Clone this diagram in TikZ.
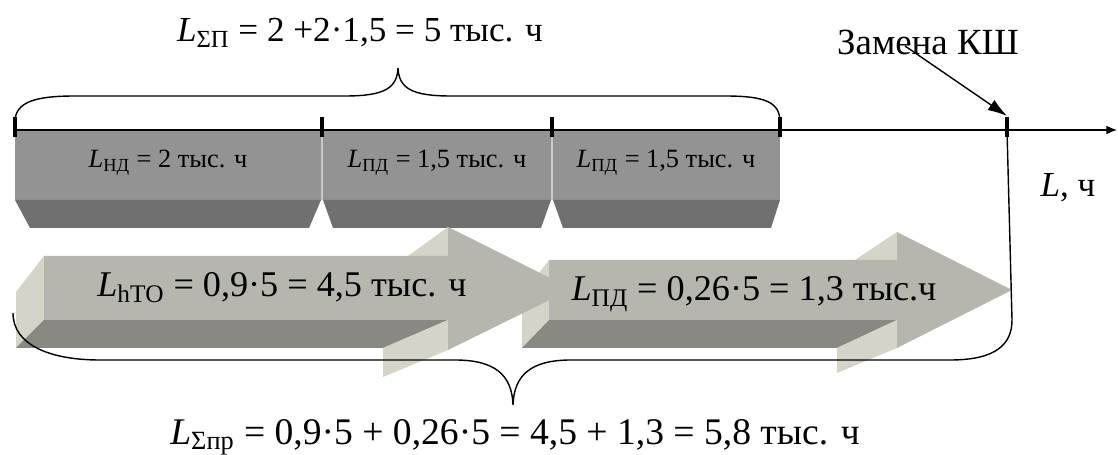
\documentclass[tikz,border=0pt]{standalone}
\usepackage{fontspec}
\setmainfont{Liberation Serif}
\usepackage{tikz}
\usetikzlibrary{arrows.meta, positioning}

\definecolor{segtop}{RGB}{147,147,147}
\definecolor{segbot}{RGB}{112,112,112}
\definecolor{segsep}{RGB}{200,200,200}
\definecolor{arrfront}{RGB}{182,182,174}
\definecolor{arrside}{RGB}{214,212,200}
\definecolor{arrdark}{RGB}{137,136,131}

\newcommand{\sbs}[1]{\textsubscript{\upshape #1}}

\tikzstyle{bigtext} = [inner sep=0pt, anchor=base, font=\fontsize{20}{24}\selectfont]
\tikzstyle{arrtext} = [inner sep=0pt, anchor=base, font=\fontsize{20.6}{24}\selectfont]
\tikzstyle{segtext} = [inner sep=0pt, anchor=base, font=\fontsize{15}{18}\selectfont]
\tikzstyle{tick} = [line width=2.3pt]
\tikzstyle{brace} = [thick]
\tikzstyle{pointer} = [thick, -{Latex[length=11pt, width=7pt]}]

\begin{document}
\begin{tikzpicture}[x=0.02cm, y=-0.02cm]
\useasboundingbox (0,0) rectangle (1118,455);

% Axis points
\coordinate (t1) at (15,130);
\coordinate (t2) at (322,130);
\coordinate (t3) at (552,130);
\coordinate (t4) at (780,130);
\coordinate (t5) at (1007,130);
\coordinate (tend) at (1117,130);

% Segments on the axis
\fill[segtop] (t1) rectangle (321,200);
\fill[segbot] (15,200) -- (321,200) -- (309,228) -- (30,228) -- cycle;
\fill[segtop] (323,130) rectangle (551,200);
\fill[segbot] (323,200) -- (551,200) -- (541,228) -- (333,228) -- cycle;
\fill[segtop] (553,130) rectangle (780,200);
\fill[segbot] (553,200) -- (780,200) -- (771,228) -- (563,228) -- cycle;
\draw[segsep, line width=1.2pt] (322,131) -- (322,200);
\draw[segsep, line width=1.2pt] (552,131) -- (552,200);

\node (nd) [segtext] at (168,168) {\textit{L}\sbs{НД} = 2 тыс. ч};
\node (pd1) [segtext] at (437,168) {\textit{L}\sbs{ПД} = 1,5 тыс. ч};
\node (pd2) [segtext] at (666,168) {\textit{L}\sbs{ПД} = 1,5 тыс. ч};

% Second arrow
\fill[arrside] (549,260) -- (522,295) -- (522,348) -- (549,320) -- cycle;
\fill[arrdark] (522,348) -- (549,320) -- (897,320) -- (837,348) -- cycle;
\fill[arrside] (897,320) -- (897,348) -- (837,373) -- (837,348) -- cycle;
\fill[arrside] (897,232) -- (897,260) -- (855,260) -- cycle;
\fill[arrfront] (549,260) -- (897,260) -- (897,232) -- (1012,290) -- (897,348) -- (897,320) -- (549,320) -- cycle;

% First arrow
\fill[arrside] (16,292) -- (44,256) -- (44,320) -- (16,348) -- cycle;
\fill[arrdark] (16,348) -- (44,320) -- (448,320) -- (383,348) -- cycle;
\fill[arrside] (448,320) -- (448,350) -- (383,377) -- (383,348) -- cycle;
\fill[arrside] (448,227) -- (448,256) -- (408,256) -- cycle;
\fill[arrfront] (44,256) -- (448,256) -- (448,227) -- (572,289) -- (448,350) -- (448,320) -- (44,320) -- cycle;

\node (hto) [arrtext] at (282,297) {\textit{L}\sbs{hТО} = 0,9·5 = 4,5 тыс. ч};
\node (pd3) [arrtext] at (754,301) {\textit{L}\sbs{ПД} = 0,26·5 = 1,3 тыс.ч};

% Braces
\draw[brace] (15,122) .. controls (15,102) and (35,96) .. (75,96) -- (345,96)
  .. controls (385,96) and (397,88) .. (398,68) .. controls (399,88) and (411,96) .. (451,96)
  -- (725,96) .. controls (765,96) and (780,102) .. (780,122);
\draw[brace] (13,313) .. controls (13,345) and (50,360) .. (100,360) -- (455,360)
  .. controls (495,360) and (512,375) .. (513,405) .. controls (514,375) and (531,360) .. (571,360)
  -- (950,360) .. controls (995,360) and (1012,345) .. (1012,320) -- (t5);

% Axis
\draw[thick, -{Latex[length=6pt, width=5pt]}] (t1) -- (tend);
\foreach \t in {t1,t2,t3,t4,t5}
  \draw[tick] ([yshift=7.4pt]\t) -- ([yshift=-4pt]\t);

% Labels
\node (sump) [bigtext] at (360,42) {\textit{L}\sbs{ΣП} = 2 +2·1,5 = 5 тыс. ч};
\node (zamena) [bigtext, font=\fontsize{21}{24}\selectfont] at (928,55) {Замена КШ};
\node (axis) [bigtext] at (1068,197) {\textit{L}, ч};
\node (sumpr) [bigtext, font=\fontsize{21.4}{24}\selectfont] at (515,444) {\textit{L}\sbs{Σпр} = 0,9·5 + 0,26·5 = 4,5 + 1,3 = 5,8 тыс. ч};

\coordinate (zstart) at (905,46);
\draw[pointer] (zstart) -- ([yshift=8pt]t5);

\end{tikzpicture}
\end{document}
